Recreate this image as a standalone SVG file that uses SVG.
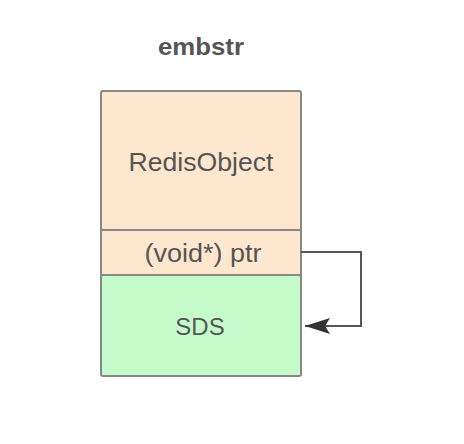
<svg xmlns="http://www.w3.org/2000/svg" width="464" height="444" viewBox="0 0 464 444">
<defs>
<marker id="arr" markerWidth="26" markerHeight="16" refX="25" refY="8" orient="auto" markerUnits="userSpaceOnUse">
<path d="M0,0 L25,8 L0,16 L5,8 Z" fill="#333"/>
</marker>
</defs>
<style>
.box{stroke:#888;stroke-width:2}
.t{font-family:"Liberation Sans",Arial,sans-serif;fill:#555;text-anchor:middle;dominant-baseline:central}
</style>
<rect width="464" height="444" fill="#fff"/>
<text class="t" x="201" y="46" font-size="24" font-weight="bold" fill="#333" textLength="86" lengthAdjust="spacingAndGlyphs">embstr</text>
<g id="redisobject"><rect class="box" x="101" y="91" width="200" height="139" fill="#FFE6CF" rx="2"/><text class="t" x="201" y="162" font-size="25" textLength="145" lengthAdjust="spacingAndGlyphs">RedisObject</text></g>
<g id="ptr"><rect class="box" x="101" y="230" width="200" height="45" fill="#FFE6CF"/><text class="t" x="203" y="253" font-size="25" textLength="117" lengthAdjust="spacingAndGlyphs">(void*) ptr</text></g>
<g id="sds"><rect class="box" x="101" y="275" width="200" height="101" fill="#C5FBCB" rx="2"/><text class="t" x="200" y="326" font-size="24">SDS</text></g>
<g id="connectors"><path d="M301,252 H361 V326 H305" fill="none" stroke="#555" stroke-width="2" marker-end="url(#arr)"/></g>
</svg>
